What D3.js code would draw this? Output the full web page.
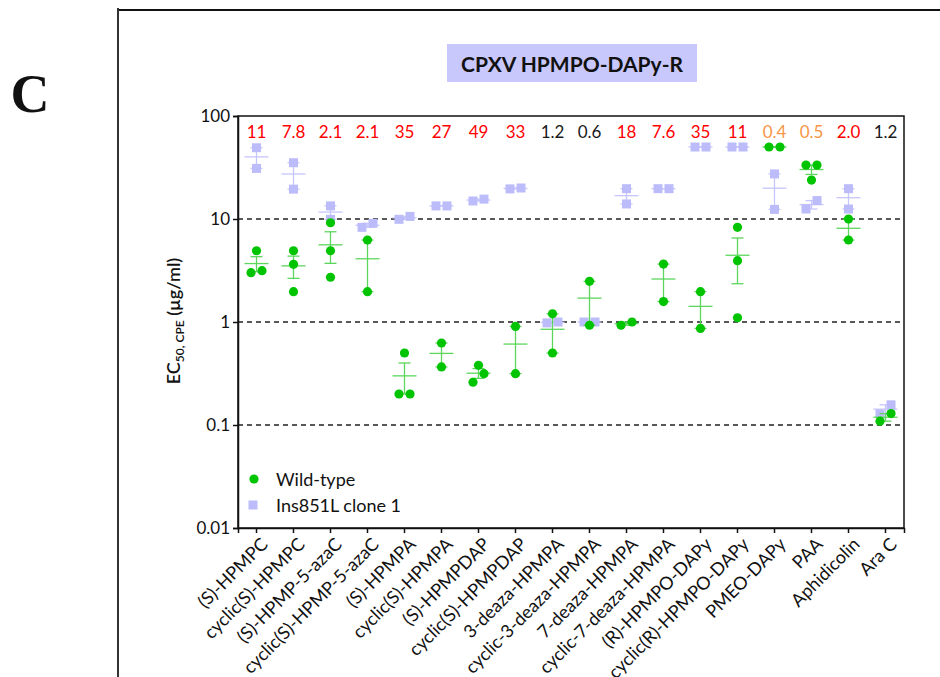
<!DOCTYPE html>
<html>
<head>
<meta charset="utf-8">
<script src="https://cdn.jsdelivr.net/npm/d3@7/dist/d3.min.js"></script>
<style>
  html, body { margin: 0; padding: 0; background: #fff; }
  svg { display: block; }
  svg text { font-family: Lato, "Open Sans", sans-serif; }
</style>
</head>
<body>
<svg id="chart" width="940" height="677"></svg>
<script>
// Compounds tested against CPXV
const categories = [
  "(S)-HPMPC", "cyclic(S)-HPMPC", "(S)-HPMP-5-azaC", "cyclic(S)-HPMP-5-azaC",
  "(S)-HPMPA", "cyclic(S)-HPMPA", "(S)-HPMPDAP", "cyclic(S)-HPMPDAP",
  "3-deaza-HPMPA", "cyclic-3-deaza-HPMPA", "7-deaza-HPMPA", "cyclic-7-deaza-HPMPA",
  "(R)-HPMPO-DAPy", "cyclic(R)-HPMPO-DAPy", "PMEO-DAPy", "PAA", "Aphidicolin", "Ara C"
];

// EC50 replicates (µg/ml), wild-type virus
const wildType = [
  [4.92, 3.01, 3.15], [4.92, 3.63, 1.97], [9.2, 4.92, 2.72], [6.25, 1.97],
  [0.5, 0.2, 0.2], [0.625, 0.366], [0.38, 0.315, 0.26], [0.906, 0.315],
  [1.2, 0.5], [2.48, 0.93], [0.93, 1.0], [3.65, 1.58],
  [1.97, 0.867], [8.3, 3.94, 1.1], [50, 50], [33.4, 33.4, 23.9],
  [10.0, 6.25], [0.129, 0.109]
];

// EC50 replicates (µg/ml), Ins851L clone 1
const mutant = [
  [49.2, 31], [35.2, 19.5], [13.4, 9.93], [8.3, 9.08],
  [9.93, 10.6], [13.4, 13.4], [14.96, 15.6], [20, 19.6],
  [1.0, 0.98], [1.0, 1.0], [19.7, 14.0], [19.7, 19.7],
  [50, 50], [50, 50], [27.4, 12.4], [12.5, 15.1],
  [19.7, 12.5], [0.157, 0.128]
];

// Fold resistance (mutant / wild-type)
const foldLabels = ["11", "7.8", "2.1", "2.1", "35", "27", "49", "33", "1.2", "0.6",
                    "18", "7.6", "35", "11", "0.4", "0.5", "2.0", "1.2"];

const yTicks = [0.01, 0.1, 1, 10, 100];
const yTickLabels = ["0.01", "0.1", "1", "10", "100"];
const gridValues = [0.1, 1, 10];

const legendItems = ["Wild-type", "Ins851L clone 1"];

const colors = {
  wt: "#00c400", wtBar: "#5cd65c",
  mut: "#bcbcfb", mutBar: "#c6c6fd",
  red: "#ff0000", orange: "#f79646", black: "#1a1a1a"
};

const svg = d3.select("#chart");
const plot = { left: 238, right: 904, top: 116, bottom: 528 };

const x = d3.scaleBand().domain(categories).range([plot.left, plot.right]).padding(0);
const y = d3.scaleLog().domain([0.01, 100]).range([plot.bottom, plot.top]);

// Outer panel frame and panel letter
svg.append("line").attr("x1", 118).attr("x2", 940).attr("y1", 10).attr("y2", 10)
  .attr("stroke", "#111").attr("stroke-width", 2);
svg.append("line").attr("x1", 118).attr("x2", 118).attr("y1", 8).attr("y2", 677)
  .attr("stroke", "#333").attr("stroke-width", 2);
svg.append("text").attr("x", 30).attr("y", 112).attr("text-anchor", "middle")
  .style("font-family", "'Liberation Serif', 'DejaVu Serif', serif")
  .style("font-weight", "bold").style("font-size", "54px").attr("fill", "#111").text("C");

// Title banner
const titleG = svg.append("g");
titleG.append("rect").attr("x", 447).attr("y", 44).attr("width", 250).attr("height", 38)
  .attr("fill", "#c8c8fd");
titleG.append("text").attr("x", 572).attr("y", 63).attr("text-anchor", "middle")
  .attr("dominant-baseline", "central").style("font-size", "21px").style("font-weight", "bold")
  .attr("fill", "#111").text("CPXV HPMPO-DAPy-R");

// Dashed reference lines
svg.append("g").selectAll("line").data(gridValues).join("line")
  .attr("x1", plot.left).attr("x2", plot.right)
  .attr("y1", d => y(d)).attr("y2", d => y(d))
  .attr("stroke", "#222").attr("stroke-width", 1.5).attr("stroke-dasharray", "5,4");

// Axes
const yAxis = d3.axisLeft(y).tickValues(yTicks)
  .tickFormat((d, i) => yTickLabels[i]).tickSize(5).tickPadding(3);
const yG = svg.append("g").attr("transform", `translate(${plot.left},0)`).call(yAxis)
  .attr("font-family", null).attr("font-size", null);
yG.selectAll("text").style("font-size", "17px").attr("fill", "#111");
yG.selectAll("line, path").attr("stroke", "#111").attr("stroke-width", 1.5);

const xAxis = d3.axisBottom(x).tickSize(5).tickPadding(4);
const xG = svg.append("g").attr("transform", `translate(0,${plot.bottom})`).call(xAxis)
  .attr("font-family", null).attr("font-size", null);
xG.selectAll("line, path").attr("stroke", "#111").attr("stroke-width", 1.5);
xG.selectAll("text")
  .style("font-size", "18px").attr("fill", "#111")
  .attr("text-anchor", "end")
  .attr("dy", "0.35em")
  .attr("transform", "translate(8,13) rotate(-45)")
  .attr("x", 0).attr("y", 0);

// Box around the plot area
svg.append("rect").attr("x", plot.left).attr("y", plot.top)
  .attr("width", plot.right - plot.left).attr("height", plot.bottom - plot.top)
  .attr("fill", "none").attr("stroke", "#111").attr("stroke-width", 1.5);

// Y-axis title
const yTitle = svg.append("text")
  .attr("transform", `translate(180,${(plot.top + plot.bottom) / 2 - 1}) rotate(-90)`)
  .attr("text-anchor", "middle").style("font-size", "18px").style("font-weight", "600")
  .attr("fill", "#111");
yTitle.append("tspan").text("EC");
yTitle.append("tspan").style("font-size", "12px").attr("dy", "4").text("50, CPE");
yTitle.append("tspan").attr("dy", "-4").text(" (µg/ml)");

// Fold-change annotations
function foldColor(s) {
  const v = +s;
  if (v >= 2) return colors.red;
  if (v <= 0.5) return colors.orange;
  return colors.black;
}
svg.append("g").selectAll("text").data(foldLabels).join("text")
  .attr("x", (d, i) => x(categories[i]) + x.bandwidth() / 2)
  .attr("y", 131).attr("text-anchor", "middle").attr("dominant-baseline", "central")
  .style("font-size", "17px").attr("fill", d => foldColor(d)).text(d => d);

// Horizontal spread of replicates that would overlap
function spread(vals) {
  const pts = vals.map((v, i) => ({ v, i, py: y(v) })).sort((a, b) => a.py - b.py);
  const off = new Array(vals.length).fill(0);
  let cluster = [pts[0]];
  const clusters = [];
  for (let k = 1; k < pts.length; k++) {
    if (pts[k].py - pts[k - 1].py < 10) cluster.push(pts[k]);
    else { clusters.push(cluster); cluster = [pts[k]]; }
  }
  clusters.push(cluster);
  clusters.forEach(c => {
    if (c.length === 2) { off[c[0].i] = 5.5; off[c[1].i] = -5.5; }
    else if (c.length >= 3) {
      const pattern = [0, 5.5, -5.5, 11, -11];
      c.forEach((p, k) => { off[p.i] = pattern[k % pattern.length]; });
    }
  });
  return off;
}

function meanSem(vals) {
  const m = d3.mean(vals);
  const sd = vals.length > 1 ? d3.deviation(vals) : 0;
  return { m, sem: sd / Math.sqrt(vals.length) };
}

function drawSeries(data, barColor, drawMark) {
  const g = svg.append("g");
  data.forEach((vals, ci) => {
    const cx = x(categories[ci]) + x.bandwidth() / 2;
    const { m, sem } = meanSem(vals);
    const hi = m + sem, lo = Math.max(m - sem, 0.011);
    const bar = g.append("g").attr("stroke", barColor).attr("stroke-width", 1.3);
    bar.append("line").attr("x1", cx).attr("x2", cx).attr("y1", y(hi)).attr("y2", y(lo));
    bar.append("line").attr("x1", cx - 6).attr("x2", cx + 6).attr("y1", y(hi)).attr("y2", y(hi));
    bar.append("line").attr("x1", cx - 6).attr("x2", cx + 6).attr("y1", y(lo)).attr("y2", y(lo));
    bar.append("line").attr("x1", cx - 12).attr("x2", cx + 12).attr("y1", y(m)).attr("y2", y(m));
    const off = spread(vals);
    vals.forEach((v, k) => drawMark(g, cx + off[k], y(v)));
  });
}

const square = (g, px, py) => g.append("rect").attr("x", px - 4.5).attr("y", py - 4.5)
  .attr("width", 9).attr("height", 9).attr("fill", colors.mut);
const circle = (g, px, py) => g.append("circle").attr("cx", px).attr("cy", py)
  .attr("r", 4.6).attr("fill", colors.wt);

drawSeries(mutant, colors.mutBar, square);
drawSeries(wildType, colors.wtBar, circle);

// Legend
const lg = svg.append("g");
circle(lg, 254, 479);
square(lg, 253, 505);
lg.selectAll("text").data(legendItems).join("text")
  .attr("x", 276).attr("y", (d, i) => 479 + i * 26).attr("dominant-baseline", "central")
  .style("font-size", "18px").attr("fill", "#111").text(d => d);
</script>
</body>
</html>
